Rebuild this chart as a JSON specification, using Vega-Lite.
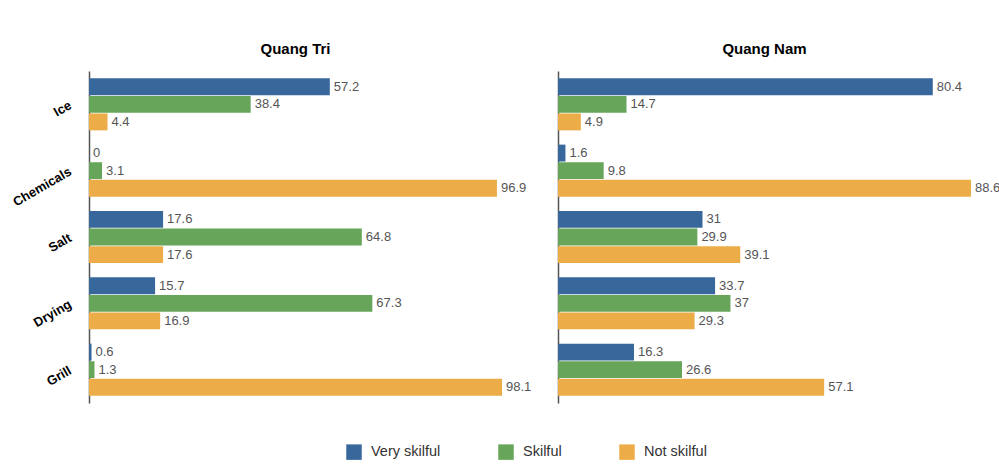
{
  "$schema": "https://vega.github.io/schema/vega-lite/v6.json",
  "padding": {"left": 10, "top": 42, "right": 0, "bottom": 0},
  "background": "white",
  "bounds": "flush",
  "spacing": 56,
  "data": {
    "values": [
      {"region": "Quang Tri", "item": "Ice", "level": "Very skilful", "value": 57.2},
      {"region": "Quang Tri", "item": "Ice", "level": "Skilful", "value": 38.4},
      {"region": "Quang Tri", "item": "Ice", "level": "Not skilful", "value": 4.4},
      {"region": "Quang Tri", "item": "Chemicals", "level": "Very skilful", "value": 0},
      {"region": "Quang Tri", "item": "Chemicals", "level": "Skilful", "value": 3.1},
      {"region": "Quang Tri", "item": "Chemicals", "level": "Not skilful", "value": 96.9},
      {"region": "Quang Tri", "item": "Salt", "level": "Very skilful", "value": 17.6},
      {"region": "Quang Tri", "item": "Salt", "level": "Skilful", "value": 64.8},
      {"region": "Quang Tri", "item": "Salt", "level": "Not skilful", "value": 17.6},
      {"region": "Quang Tri", "item": "Drying", "level": "Very skilful", "value": 15.7},
      {"region": "Quang Tri", "item": "Drying", "level": "Skilful", "value": 67.3},
      {"region": "Quang Tri", "item": "Drying", "level": "Not skilful", "value": 16.9},
      {"region": "Quang Tri", "item": "Grill", "level": "Very skilful", "value": 0.6},
      {"region": "Quang Tri", "item": "Grill", "level": "Skilful", "value": 1.3},
      {"region": "Quang Tri", "item": "Grill", "level": "Not skilful", "value": 98.1},
      {"region": "Quang Nam", "item": "Ice", "level": "Very skilful", "value": 80.4},
      {"region": "Quang Nam", "item": "Ice", "level": "Skilful", "value": 14.7},
      {"region": "Quang Nam", "item": "Ice", "level": "Not skilful", "value": 4.9},
      {"region": "Quang Nam", "item": "Chemicals", "level": "Very skilful", "value": 1.6},
      {"region": "Quang Nam", "item": "Chemicals", "level": "Skilful", "value": 9.8},
      {"region": "Quang Nam", "item": "Chemicals", "level": "Not skilful", "value": 88.6},
      {"region": "Quang Nam", "item": "Salt", "level": "Very skilful", "value": 31},
      {"region": "Quang Nam", "item": "Salt", "level": "Skilful", "value": 29.9},
      {"region": "Quang Nam", "item": "Salt", "level": "Not skilful", "value": 39.1},
      {"region": "Quang Nam", "item": "Drying", "level": "Very skilful", "value": 33.7},
      {"region": "Quang Nam", "item": "Drying", "level": "Skilful", "value": 37},
      {"region": "Quang Nam", "item": "Drying", "level": "Not skilful", "value": 29.3},
      {"region": "Quang Nam", "item": "Grill", "level": "Very skilful", "value": 16.3},
      {"region": "Quang Nam", "item": "Grill", "level": "Skilful", "value": 26.6},
      {"region": "Quang Nam", "item": "Grill", "level": "Not skilful", "value": 57.1}
    ]
  },
  "hconcat": [
    {
      "width": 413,
      "height": 332,
      "title": {"text": "Quang Tri"},
      "transform": [{"filter": "datum.region === 'Quang Tri'"}],
      "encoding": {
        "y": {
          "field": "item", "type": "nominal",
          "sort": ["Ice", "Chemicals", "Salt", "Drying", "Grill"],
          "scale": {"paddingInner": 0.215, "paddingOuter": 0.11},
          "axis": {"title": null, "ticks": false, "labelAngle": -30, "labelAlign": "right", "labelBaseline": "middle", "labelPadding": 19, "labelFontWeight": "bold", "labelFontSize": 13, "labelColor": "#000", "domainColor": "#555", "domainWidth": 1.5}
        },
        "yOffset": {"field": "level", "type": "nominal", "sort": ["Very skilful", "Skilful", "Not skilful"], "scale": {"paddingInner": 0.04}},
        "x": {"field": "value", "type": "quantitative", "scale": {"nice": false, "zero": true}, "axis": null}
      },
      "layer": [
        {
          "mark": {"type": "bar"},
          "encoding": {
            "color": {
              "field": "level", "type": "nominal",
              "scale": {"domain": ["Very skilful", "Skilful", "Not skilful"], "range": ["#38689b", "#67a65a", "#ecac48"]},
              "legend": {"title": null}
            }
          }
        },
        {
          "mark": {"type": "text", "align": "left", "baseline": "middle", "dx": 4, "fontSize": 13, "color": "#555"},
          "encoding": {"text": {"field": "value", "type": "quantitative"}}
        }
      ]
    },
    {
      "width": 413,
      "height": 332,
      "title": {"text": "Quang Nam"},
      "transform": [{"filter": "datum.region === 'Quang Nam'"}],
      "encoding": {
        "y": {
          "field": "item", "type": "nominal",
          "sort": ["Ice", "Chemicals", "Salt", "Drying", "Grill"],
          "scale": {"paddingInner": 0.215, "paddingOuter": 0.11},
          "axis": {"title": null, "ticks": false, "labels": false, "domainColor": "#555", "domainWidth": 1.5}
        },
        "yOffset": {"field": "level", "type": "nominal", "sort": ["Very skilful", "Skilful", "Not skilful"], "scale": {"paddingInner": 0.04}},
        "x": {"field": "value", "type": "quantitative", "scale": {"nice": false, "zero": true}, "axis": null}
      },
      "layer": [
        {
          "mark": {"type": "bar"},
          "encoding": {
            "color": {
              "field": "level", "type": "nominal",
              "scale": {"domain": ["Very skilful", "Skilful", "Not skilful"], "range": ["#38689b", "#67a65a", "#ecac48"]},
              "legend": {"title": null}
            }
          }
        },
        {
          "mark": {"type": "text", "align": "left", "baseline": "middle", "dx": 4, "fontSize": 13, "color": "#555"},
          "encoding": {"text": {"field": "value", "type": "quantitative"}}
        }
      ]
    }
  ],
  "resolve": {"scale": {"x": "independent", "y": "independent"}},
  "config": {
    "font": "Liberation Sans",
    "view": {"stroke": null},
    "title": {"fontSize": 15, "fontWeight": "bold", "color": "#000", "anchor": "middle", "offset": 14},
    "legend": {
      "orient": "none",
      "legendX": 257,
      "legendY": 373,
      "padding": 0,
      "direction": "horizontal",
      "symbolType": "square",
      "symbolSize": 240,
      "symbolStrokeWidth": 0,
      "labelFontSize": 14.5,
      "labelColor": "#333",
      "labelOffset": 9,
      "columnPadding": 57
    }
  }
}
